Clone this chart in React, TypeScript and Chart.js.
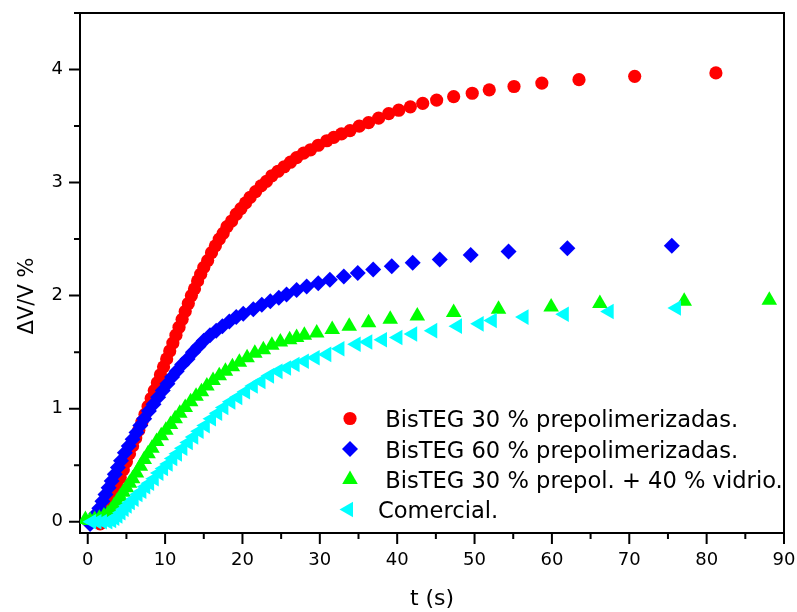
import { useEffect, useRef } from "react";
import { Chart, registerables } from "chart.js";

Chart.register(...registerables);

// ---- Data ----
const redT = [1.6, 2.1, 2.6, 3.0, 3.4, 3.8, 4.2, 4.6, 5.0, 5.4, 5.8, 6.2, 6.6, 7.0, 7.4, 7.8, 8.2, 8.6, 9.0, 9.4, 9.8, 10.2, 10.6, 11.0, 11.4, 11.8, 12.2, 12.6, 13.0, 13.4, 13.8, 14.2, 14.6, 15.0, 15.5, 16.0, 16.5, 17.0, 17.5, 18.0, 18.6, 19.2, 19.8, 20.4, 21.0, 21.7, 22.4, 23.1, 23.8, 24.6, 25.4, 26.2, 27.0, 27.9, 28.8, 29.8, 30.9, 31.8, 32.8, 33.9, 35.1, 36.3, 37.6, 38.9, 40.2, 41.7, 43.3, 45.1, 47.3, 49.7, 51.9, 55.1, 58.7, 63.5, 70.7, 81.2];
const redV = [-0.02, 0.05, 0.12, 0.19, 0.25, 0.32, 0.39, 0.46, 0.53, 0.60, 0.67, 0.74, 0.81, 0.88, 0.95, 1.02, 1.09, 1.16, 1.23, 1.30, 1.37, 1.44, 1.51, 1.58, 1.65, 1.72, 1.79, 1.86, 1.93, 2.00, 2.06, 2.13, 2.19, 2.25, 2.31, 2.38, 2.44, 2.50, 2.55, 2.61, 2.66, 2.72, 2.77, 2.82, 2.87, 2.92, 2.97, 3.01, 3.06, 3.10, 3.14, 3.18, 3.22, 3.26, 3.29, 3.33, 3.37, 3.40, 3.43, 3.46, 3.50, 3.53, 3.57, 3.61, 3.64, 3.67, 3.70, 3.73, 3.76, 3.79, 3.82, 3.85, 3.88, 3.91, 3.94, 3.97];

const blueT = [0.3, 0.7, 1.1, 1.5, 1.9, 2.3, 2.7, 3.1, 3.5, 3.9, 4.3, 4.8, 5.3, 5.8, 6.3, 6.8, 7.3, 7.9, 8.5, 9.1, 9.7, 10.3, 10.9, 11.5, 12.2, 12.9, 13.6, 14.3, 15.0, 15.8, 16.6, 17.4, 18.3, 19.2, 20.1, 21.4, 22.5, 23.6, 24.7, 25.7, 27.0, 28.3, 29.8, 31.3, 33.1, 34.9, 36.9, 39.3, 42.0, 45.5, 49.5, 54.4, 62.0, 75.5];
const blueV = [-0.02, 0.02, 0.07, 0.12, 0.18, 0.24, 0.30, 0.36, 0.42, 0.48, 0.54, 0.61, 0.67, 0.73, 0.79, 0.85, 0.91, 0.98, 1.04, 1.10, 1.16, 1.22, 1.28, 1.33, 1.39, 1.44, 1.50, 1.55, 1.60, 1.65, 1.69, 1.73, 1.77, 1.81, 1.84, 1.88, 1.92, 1.95, 1.98, 2.01, 2.05, 2.08, 2.11, 2.14, 2.17, 2.20, 2.23, 2.26, 2.29, 2.32, 2.36, 2.39, 2.42, 2.44];

const greenT = [-0.3, 0.3, 0.9, 1.5, 2.1, 2.6, 3.0, 3.4, 3.8, 4.2, 4.6, 5.0, 5.4, 5.8, 6.3, 6.8, 7.3, 7.8, 8.3, 8.9, 9.5, 10.1, 10.7, 11.3, 11.9, 12.6, 13.3, 14.0, 14.7, 15.4, 16.2, 17.0, 17.8, 18.7, 19.6, 20.6, 21.6, 22.7, 23.8, 24.9, 26.1, 27.0, 28.0, 29.6, 31.6, 33.8, 36.3, 39.1, 42.6, 47.3, 53.1, 59.9, 66.2, 77.1, 88.1];
const greenV = [0.02, 0.01, 0.02, 0.03, 0.05, 0.07, 0.10, 0.14, 0.18, 0.22, 0.26, 0.30, 0.34, 0.38, 0.43, 0.49, 0.55, 0.60, 0.65, 0.71, 0.76, 0.81, 0.86, 0.91, 0.96, 1.01, 1.06, 1.11, 1.15, 1.20, 1.25, 1.29, 1.33, 1.37, 1.41, 1.45, 1.49, 1.52, 1.56, 1.59, 1.61, 1.63, 1.65, 1.67, 1.70, 1.73, 1.76, 1.79, 1.82, 1.85, 1.88, 1.90, 1.93, 1.95, 1.96];

const cyanT = [0.5, 1.2, 1.9, 2.6, 3.1, 3.5, 3.9, 4.3, 4.7, 5.1, 5.5, 6.0, 6.5, 7.0, 7.5, 8.0, 8.6, 9.2, 9.8, 10.4, 11.0, 11.6, 12.3, 13.0, 13.7, 14.4, 15.2, 16.0, 16.8, 17.6, 18.5, 19.4, 20.4, 21.4, 22.4, 23.5, 24.6, 25.7, 26.8, 28.0, 29.4, 30.9, 32.6, 34.7, 36.2, 38.1, 40.1, 42.0, 44.6, 47.8, 50.6, 52.3, 56.4, 61.6, 67.4, 76.1];
const cyanV = [0.0, 0.0, 0.0, 0.0, 0.01, 0.03, 0.05, 0.08, 0.11, 0.14, 0.17, 0.20, 0.24, 0.27, 0.31, 0.34, 0.38, 0.43, 0.47, 0.51, 0.56, 0.60, 0.65, 0.70, 0.75, 0.80, 0.85, 0.91, 0.96, 1.01, 1.06, 1.10, 1.15, 1.20, 1.24, 1.29, 1.33, 1.36, 1.39, 1.42, 1.45, 1.48, 1.53, 1.57, 1.59, 1.61, 1.63, 1.66, 1.69, 1.73, 1.75, 1.78, 1.81, 1.835, 1.86, 1.89];

const seriesLabels = [
  " BisTEG 30 % prepolimerizadas.",
  " BisTEG 60 % prepolimerizadas.",
  " BisTEG 30 % prepol. + 40 % vidrio.",
  "Comercial.",
];
const xTitle = "t (s)";
const yTitle = "\u0394V/V %";

const xMajorTicks = [0, 10, 20, 30, 40, 50, 60, 70, 80, 90];
const xMinorTicks = [5, 15, 25, 35, 45, 55, 65, 75, 85];
const yMajorTicks = [0, 1, 2, 3, 4];
const yMinorTicks = [0.5, 1.5, 2.5, 3.5, 4.5];

// ---- Styles ----
const FONT = "'DejaVu Sans', 'Liberation Sans', Arial, sans-serif";
const COLORS = ["#ff0000", "#0000ff", "#00ff00", "#00ffff"];
const STYLES = ["circle", "rectRot", "triangle", "triangle"];
const ROTS = [0, 0, 0, -90];
const RADII = [6.6, 8, 9, 9];

function toPts(t: number[], v: number[]) {
  return t.map((x, i) => ({ x, y: v[i] }));
}

function drawMarker(ctx: CanvasRenderingContext2D, style: string, x: number, y: number, r: number, rotDeg: number, color: string) {
  ctx.save();
  ctx.fillStyle = color;
  ctx.beginPath();
  if (style === "circle") {
    ctx.arc(x, y, r, 0, Math.PI * 2);
  } else if (style === "rectRot") {
    ctx.moveTo(x, y - r);
    ctx.lineTo(x + r, y);
    ctx.lineTo(x, y + r);
    ctx.lineTo(x - r, y);
  } else {
    let rad = (rotDeg * Math.PI) / 180;
    for (let k = 0; k < 3; k++) {
      const px = x + Math.sin(rad) * r;
      const py = y - Math.cos(rad) * r;
      if (k === 0) ctx.moveTo(px, py);
      else ctx.lineTo(px, py);
      rad += (2 * Math.PI) / 3;
    }
  }
  ctx.closePath();
  ctx.fill();
  ctx.restore();
}

const framePlugin = {
  id: "frameAndLegend",
  beforeDatasetsDraw(chart: any) {
    const { ctx, chartArea: a, scales } = chart;
    ctx.save();
    ctx.strokeStyle = "#000";
    ctx.lineWidth = 2;
    ctx.strokeRect(a.left, a.top, a.right - a.left, a.bottom - a.top);
    ctx.beginPath();
    xMajorTicks.forEach((v) => {
      const p = scales.x.getPixelForValue(v);
      ctx.moveTo(p, a.bottom);
      ctx.lineTo(p, a.bottom + 11);
    });
    xMinorTicks.forEach((v) => {
      const p = scales.x.getPixelForValue(v);
      ctx.moveTo(p, a.bottom);
      ctx.lineTo(p, a.bottom + 6);
    });
    yMajorTicks.forEach((v) => {
      const p = scales.y.getPixelForValue(v);
      ctx.moveTo(a.left, p);
      ctx.lineTo(a.left - 11, p);
    });
    yMinorTicks.forEach((v) => {
      const p = scales.y.getPixelForValue(v);
      ctx.moveTo(a.left, p);
      ctx.lineTo(a.left - 6, p);
    });
    ctx.stroke();
    ctx.restore();
  },
  afterDraw(chart: any) {
    const { ctx, chartArea: a } = chart;
    ctx.save();
    ctx.fillStyle = "#000";
    // axis titles
    ctx.font = `22px ${FONT}`;
    ctx.textAlign = "center";
    ctx.textBaseline = "alphabetic";
    ctx.fillText(xTitle, (a.left + a.right) / 2, 605);
    ctx.save();
    ctx.translate(33, 296);
    ctx.rotate(-Math.PI / 2);
    ctx.font = `21px ${FONT}`;
    ctx.fillText(yTitle, 0, 0);
    ctx.restore();
    // legend
    const rowY = [418.5, 449, 479.5, 509.5];
    ctx.font = `22.6px ${FONT}`;
    ctx.textAlign = "left";
    seriesLabels.forEach((lab, i) => {
      const mx = i === 3 ? 348.5 : 350;
      drawMarker(ctx, STYLES[i], mx, rowY[i], RADII[i], ROTS[i], COLORS[i]);
      ctx.fillStyle = "#000";
      ctx.fillText(lab, 378, rowY[i] + 8.6);
    });
    ctx.restore();
  },
};

export default function App() {
  const ref = useRef<HTMLCanvasElement>(null);
  useEffect(() => {
    const series = [
      toPts(redT, redV),
      toPts(blueT, blueV),
      toPts(greenT, greenV),
      toPts(cyanT, cyanV),
    ];
    const chart = new Chart(ref.current as HTMLCanvasElement, {
      type: "scatter",
      data: {
        datasets: series.map((d, i) => ({
          label: seriesLabels[i],
          data: d,
          pointStyle: STYLES[i] as any,
          pointRadius: RADII[i],
          pointRotation: ROTS[i],
          backgroundColor: COLORS[i],
          borderColor: COLORS[i],
          borderWidth: 0,
          pointBorderWidth: 0,
          showLine: false,
          order: 3 - i,
        })),
      },
      options: {
        responsive: false,
        animation: false,
        devicePixelRatio: 1,
        layout: { padding: { left: 0, top: 13, right: 13, bottom: 0 } },
        plugins: {
          legend: { display: false },
          tooltip: { enabled: false },
        },
        scales: {
          x: {
            type: "linear",
            min: -1,
            max: 90,
            grid: { display: false, drawTicks: false },
            border: { display: false },
            ticks: {
              stepSize: 10,
              includeBounds: false,
              autoSkip: false,
              maxRotation: 0,
              padding: 17,
              color: "#000",
              font: { family: FONT, size: 18 },
            },
            afterFit: (s: any) => {
              s.height = 79;
              s.paddingLeft = 0;
              s.paddingRight = 0;
            },
          },
          y: {
            type: "linear",
            min: -0.1,
            max: 4.5,
            grid: { display: false, drawTicks: false },
            border: { display: false },
            ticks: {
              stepSize: 1,
              includeBounds: false,
              autoSkip: false,
              padding: 17,
              color: "#000",
              font: { family: FONT, size: 18 },
            },
            afterFit: (s: any) => {
              s.width = 80;
              s.paddingTop = 0;
              s.paddingBottom = 0;
            },
          },
        },
      },
      plugins: [framePlugin],
    });
    return () => chart.destroy();
  }, []);
  return (
    <div style={{ position: "absolute", left: 0, top: 0, width: 797, height: 612, background: "#fff" }}>
      <canvas ref={ref} width={797} height={612} style={{ display: "block" }} />
    </div>
  );
}
